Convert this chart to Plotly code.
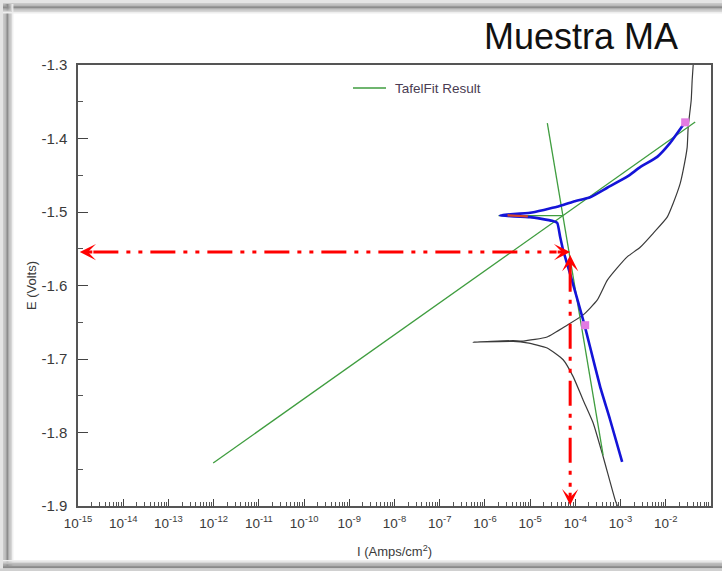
import plotly.graph_objects as go

# ---------------- data (log10 of current density, potential in V) ----------------
scan_logI = [-3.07, -3.119, -3.385, -3.606, -3.827, -4.049, -4.270, -4.624, -5.066, -5.376, -6.261,
             -5.376, -5.155, -4.624, -4.181, -3.827, -3.518, -3.296, -3.075, -2.854, -2.566, -2.279,
             -1.969, -1.836, -1.681, -1.615, -1.527, -1.504, -1.438, -1.416, -1.394]
scan_E = [-1.900, -1.892, -1.833, -1.787, -1.756, -1.724, -1.701, -1.685, -1.678, -1.676, -1.677,
          -1.675, -1.6755, -1.670, -1.654, -1.640, -1.620, -1.593, -1.576, -1.561, -1.548, -1.529,
          -1.507, -1.488, -1.461, -1.443, -1.412, -1.384, -1.348, -1.320, -1.300]

fit_logI = [-1.571, -1.903, -2.190, -2.566, -2.854, -3.296, -3.673, -4.049, -4.403, -5.0, -5.597, -5.664,
            -5.0, -4.513, -4.40, -4.336, -4.27, -4.16, -4.02, -3.827, -3.673, -3.451, -3.230, -2.965]
fit_E = [-1.3776, -1.406, -1.425, -1.439, -1.452, -1.467, -1.480, -1.486, -1.493, -1.501, -1.504, -1.505,
         -1.507, -1.512, -1.515, -1.534, -1.552, -1.575, -1.605, -1.647, -1.684, -1.738, -1.783, -1.840]

ecorr_logI = [-5.50, -5.05]
ecorr_E = [-1.5045, -1.5060]

anodic_logI = [-12.01, -1.35]
anodic_E = [-1.8415, -1.3776]
cathodic_logI = [-4.62, -3.385]
cathodic_E = [-1.379, -1.831]
near_logI = [-5.70, -4.29]
near_E = [-1.505, -1.505]

marker_logI = [-1.571, -3.783]
marker_E = [-1.378, -1.654]

arrow_logI = -4.115
arrow_E = -1.5545
arrow_left_logI = -14.96
arrow_bottom_E = -1.899

x_tick_exp = list(range(-15, 0))
x_tick_text = ["10<sup>%d</sup>" % e for e in x_tick_exp]
y_tick_vals = [-1.9, -1.8, -1.7, -1.6, -1.5, -1.4, -1.3]
y_tick_text = ["-1.9", "-1.8", "-1.7", "-1.6", "-1.5", "-1.4", "-1.3"]

# ---------------- figure ----------------
W, H = 722, 571
L, R, T, B = 78, 11, 65, 65
PW, PH = W - L - R, H - T - B


def px(x):
    return (x - L) / PW


def py(y):
    return (H - B - y) / PH


def I(v):
    return [10 ** a for a in v]


GREEN = "#3f9d3f"
fig = go.Figure()

fig.add_trace(go.Scatter(x=I(scan_logI), y=scan_E, mode="lines",
                         line=dict(color="#3a3a3a", width=1.2, shape="spline", smoothing=0.5),
                         showlegend=False))
fig.add_trace(go.Scatter(x=I(anodic_logI), y=anodic_E, mode="lines",
                         line=dict(color=GREEN, width=1.3), showlegend=False))
fig.add_trace(go.Scatter(x=I(cathodic_logI), y=cathodic_E, mode="lines",
                         line=dict(color=GREEN, width=1.3), showlegend=False))
fig.add_trace(go.Scatter(x=I(near_logI), y=near_E, mode="lines",
                         line=dict(color=GREEN, width=1.3), showlegend=False))
fig.add_trace(go.Scatter(x=I(fit_logI), y=fit_E, mode="lines",
                         line=dict(color="#1414d8", width=2.6, shape="spline", smoothing=0.4),
                         showlegend=False))
fig.add_trace(go.Scatter(x=I(ecorr_logI), y=ecorr_E, mode="lines",
                         line=dict(color="#d2452a", width=2.4), showlegend=False))
fig.add_trace(go.Scatter(x=I(marker_logI), y=marker_E, mode="markers",
                         marker=dict(color="#e27be2", size=8, symbol="square"), showlegend=False))

# red dash-dot-dot guide lines
DASH = "25px,8px,4px,8px,4px,8px"
fig.add_trace(go.Scatter(x=I([arrow_left_logI + 0.3, arrow_logI - 0.3]), y=[arrow_E, arrow_E], mode="lines",
                         line=dict(color="#ff0000", width=3, dash=DASH), showlegend=False))
fig.add_trace(go.Scatter(x=I([arrow_logI, arrow_logI]), y=[arrow_E - 0.02, arrow_bottom_E + 0.02], mode="lines",
                         line=dict(color="#ff0000", width=3, dash=DASH), showlegend=False))

arrows = [
    (arrow_left_logI, arrow_E, 14, 0),
    (arrow_logI, arrow_E, -14, 0),
    (arrow_logI, arrow_E - 0.004, 0, 14),
    (arrow_logI, arrow_bottom_E, 0, -14),
]
annotations = []
for ax_, ay_, dx, dy in arrows:
    annotations.append(dict(x=ax_, y=ay_, xref="x", yref="y", ax=dx, ay=dy, text="",
                            showarrow=True, arrowhead=3, arrowwidth=3, arrowsize=0.9,
                            arrowcolor="#ff0000"))

# title
annotations.append(dict(x=px(680), y=py(36), xref="paper", yref="paper", text="Muestra MA",
                        showarrow=False, xanchor="right", yanchor="middle",
                        font=dict(family="Liberation Sans, Arial", size=36, color="#111111")))
# legend
annotations.append(dict(x=px(393), y=py(88), xref="paper", yref="paper", text="TafelFit Result",
                        showarrow=False, xanchor="left", yanchor="middle",
                        font=dict(family="Liberation Sans, Arial", size=13.5, color="#4a3c52")))

shapes = [dict(type="line", xref="paper", yref="paper", x0=px(353), x1=px(386), y0=py(88), y1=py(88),
               line=dict(color=GREEN, width=1.5))]

# slide shadow frame
for i, c in enumerate(["#c9c9c9", "#b0b0b0", "#9a9a9a", "#8c8c8c", "#9c9c9c", "#b8b8b8", "#d6d6d6", "#eeeeee"]):
    x0 = 3 + i * 1.3
    shapes.append(dict(type="rect", xref="paper", yref="paper", layer="below",
                       x0=px(x0), x1=px(x0 + 1.3), y0=py(568), y1=py(4), line=dict(width=0), fillcolor=c))
    y0 = 3 + i * 1.3
    shapes.append(dict(type="rect", xref="paper", yref="paper", layer="below",
                       x0=px(3), x1=px(722), y0=py(y0 + 1.3), y1=py(y0), line=dict(width=0), fillcolor=c))
for i, c in enumerate(["#eeeeee", "#d8d8d8", "#bdbdbd", "#a3a3a3", "#929292", "#8a8a8a"]):
    y0 = 560 + i * 1.4
    shapes.append(dict(type="rect", xref="paper", yref="paper", layer="below",
                       x0=px(3), x1=px(722), y0=py(y0 + 1.4), y1=py(y0), line=dict(width=0), fillcolor=c))
shapes.append(dict(type="rect", xref="paper", yref="paper", layer="below",
                   x0=px(0), x1=px(3), y0=py(571), y1=py(0), line=dict(width=0), fillcolor="#e4e4e4"))
shapes.append(dict(type="rect", xref="paper", yref="paper", layer="below",
                   x0=px(0), x1=px(722), y0=py(3), y1=py(0), line=dict(width=0), fillcolor="#e4e4e4"))
shapes.append(dict(type="rect", xref="paper", yref="paper", layer="below",
                   x0=px(0), x1=px(722), y0=py(571), y1=py(568.4), line=dict(width=0), fillcolor="#d0d0d0"))

XFONT = dict(family="Liberation Sans, Arial", size=13.5, color="#3a3a3a")
YFONT = dict(family="Liberation Sans, Arial", size=15, color="#3a3a3a")
TFONT = dict(family="Liberation Sans, Arial", size=13, color="#3a3a3a")

fig.update_layout(
    width=W, height=H,
    margin=dict(l=L, r=R, t=T, b=B, pad=0, autoexpand=False),
    paper_bgcolor="white", plot_bgcolor="white",
    annotations=annotations, shapes=shapes,
    showlegend=False,
    xaxis=dict(type="log", range=[-15, -1], tickmode="array", automargin=False,
               tickvals=[10.0 ** e for e in x_tick_exp], ticktext=x_tick_text,
               ticks="inside", ticklen=7, tickwidth=1.2, tickcolor="#444",
               minor=dict(dtick="D1", ticks="inside", ticklen=4, tickwidth=1, tickcolor="#555", showgrid=False),
               showline=True, linecolor="#555", linewidth=1.5, mirror=True,
               showgrid=False, zeroline=False, tickfont=XFONT, ticklabelstandoff=4,
               title=dict(text="I (Amps/cm<sup>2</sup>)", font=TFONT, standoff=17)),
    yaxis=dict(range=[-1.9, -1.3], tickmode="array", tickvals=y_tick_vals, ticktext=y_tick_text,
               automargin=False,
               ticks="inside", ticklen=10, tickwidth=1.2, tickcolor="#444",
               minor=dict(dtick=0.05, ticks="inside", ticklen=5, tickwidth=1, tickcolor="#555", showgrid=False),
               showline=True, linecolor="#555", linewidth=1.5, mirror=True,
               showgrid=False, zeroline=False, tickfont=YFONT, ticklabelstandoff=6,
               title=dict(text="E (Volts)", font=TFONT, standoff=2)),
)

fig.write_html("out.html")
